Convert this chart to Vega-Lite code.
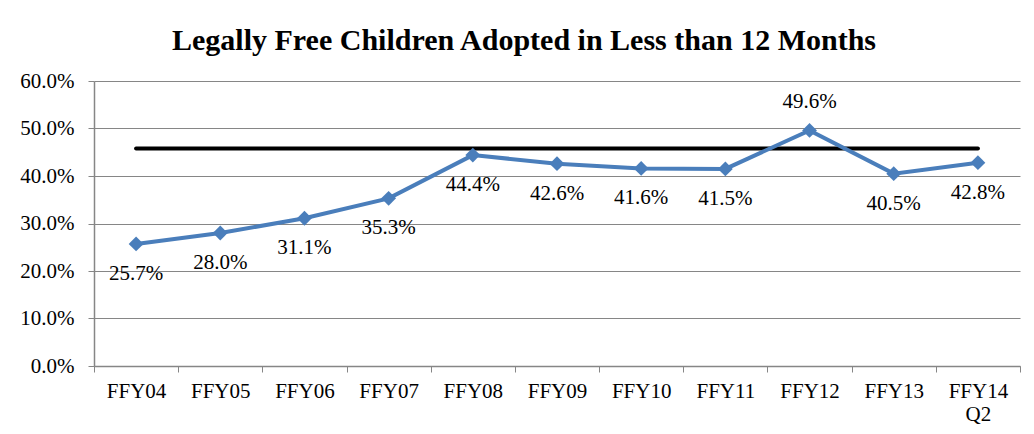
{
  "$schema": "https://vega.github.io/schema/vega-lite/v6.json",
  "width": 926,
  "height": 285,
  "autosize": {"type": "none"},
  "padding": {"left": 94, "top": 81, "right": 14, "bottom": 68},
  "background": "white",
  "config": {
    "view": {"stroke": null},
    "font": "Liberation Serif"
  },
  "title": {
    "text": "Legally Free Children Adopted in Less than 12 Months",
    "font": "Liberation Serif",
    "fontSize": 30,
    "fontWeight": "bold",
    "color": "black",
    "anchor": "middle",
    "dx": -33,
    "offset": 14
  },
  "data": {
    "values": [
      {"period": "FFY04", "rate": 0.257, "target": 0.458},
      {"period": "FFY05", "rate": 0.280, "target": 0.458},
      {"period": "FFY06", "rate": 0.311, "target": 0.458},
      {"period": "FFY07", "rate": 0.353, "target": 0.458},
      {"period": "FFY08", "rate": 0.444, "target": 0.458},
      {"period": "FFY09", "rate": 0.426, "target": 0.458},
      {"period": "FFY10", "rate": 0.416, "target": 0.458},
      {"period": "FFY11", "rate": 0.415, "target": 0.458},
      {"period": "FFY12", "rate": 0.496, "target": 0.458},
      {"period": "FFY13", "rate": 0.405, "target": 0.458},
      {"period": "FFY14 Q2", "rate": 0.428, "target": 0.458}
    ]
  },
  "encoding": {
    "x": {
      "field": "period",
      "type": "nominal",
      "sort": null,
      "scale": {"type": "band", "paddingInner": 0, "paddingOuter": 0},
      "axis": {
        "title": null,
        "labelAngle": 0,
        "labelExpr": "split(datum.label, ' ')",
        "labelFont": "Liberation Serif",
        "labelFontSize": 21,
        "labelColor": "black",
        "labelPadding": 8,
        "labelLineHeight": 23,
        "tickBand": "extent",
        "tickSize": 6,
        "tickColor": "#868686",
        "domainColor": "#868686",
        "domainWidth": 1.5,
        "grid": false
      }
    }
  },
  "layer": [
    {
      "mark": {"type": "line", "color": "black", "strokeWidth": 4, "strokeCap": "round"},
      "encoding": {
        "y": {"field": "target", "type": "quantitative"}
      }
    },
    {
      "mark": {"type": "line", "color": "#4A7EBB", "strokeWidth": 4},
      "encoding": {
        "y": {
          "field": "rate",
          "type": "quantitative",
          "scale": {"domain": [0, 0.6], "nice": false},
          "axis": {
            "title": null,
            "format": ".1%",
            "values": [0, 0.1, 0.2, 0.3, 0.4, 0.5, 0.6],
            "labelFont": "Liberation Serif",
            "labelFontSize": 21,
            "labelColor": "black",
            "labelPadding": 14,
            "tickSize": 6,
            "tickColor": "#868686",
            "domainColor": "#868686",
            "domainWidth": 1.5,
            "gridColor": "#868686",
            "gridWidth": 1.2
          }
        }
      }
    },
    {
      "mark": {"type": "point", "shape": "diamond", "filled": true, "color": "#4A7EBB", "size": 220, "opacity": 1},
      "encoding": {
        "y": {"field": "rate", "type": "quantitative"}
      }
    },
    {
      "transform": [{"filter": "datum.period != 'FFY12'"}],
      "mark": {"type": "text", "font": "Liberation Serif", "fontSize": 21, "color": "black", "dy": 30},
      "encoding": {
        "y": {"field": "rate", "type": "quantitative"},
        "text": {"field": "rate", "type": "quantitative", "format": ".1%"}
      }
    },
    {
      "transform": [{"filter": "datum.period == 'FFY12'"}],
      "mark": {"type": "text", "font": "Liberation Serif", "fontSize": 21, "color": "black", "dy": -28},
      "encoding": {
        "y": {"field": "rate", "type": "quantitative"},
        "text": {"field": "rate", "type": "quantitative", "format": ".1%"}
      }
    }
  ]
}
